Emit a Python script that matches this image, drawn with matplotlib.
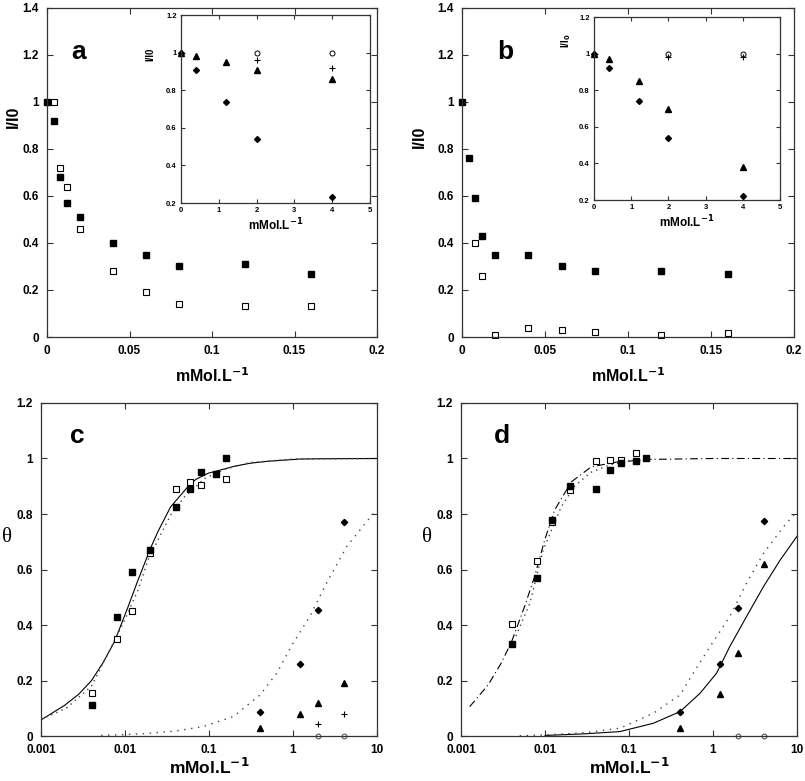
import matplotlib
matplotlib.use('Agg')
import matplotlib.pyplot as plt

plt.rcParams['font.family'] = ['Liberation Sans', 'DejaVu Sans']
plt.rcParams['font.weight'] = 'bold'

# ---------------- Data ----------------
# panel a (main)
a_fill_x = [0, 0.004, 0.008, 0.012, 0.02, 0.04, 0.06, 0.08, 0.12, 0.16]
a_fill_y = [1.0, 0.92, 0.68, 0.57, 0.51, 0.40, 0.35, 0.30, 0.31, 0.27]
a_open_x = [0.004, 0.008, 0.012, 0.02, 0.04, 0.06, 0.08, 0.12, 0.16]
a_open_y = [1.0, 0.72, 0.64, 0.46, 0.28, 0.19, 0.14, 0.13, 0.13]
# panel a (inset)
ai_tri_x = [0, 0.4, 1.2, 2, 4]
ai_tri_y = [1.0, 0.98, 0.95, 0.91, 0.86]
ai_dia_x = [0, 0.4, 1.2, 2, 4]
ai_dia_y = [1.0, 0.91, 0.74, 0.54, 0.23]
ai_plus_x = [2, 4]
ai_plus_y = [0.96, 0.92]
ai_circ_x = [2, 4]
ai_circ_y = [1.0, 1.0]

# panel b (main)
b_fill_x = [0, 0.004, 0.008, 0.012, 0.02, 0.04, 0.06, 0.08, 0.12, 0.16]
b_fill_y = [1.0, 0.76, 0.59, 0.43, 0.35, 0.35, 0.30, 0.28, 0.28, 0.27]
b_open_x = [0.008, 0.012, 0.02, 0.04, 0.06, 0.08, 0.12, 0.16]
b_open_y = [0.40, 0.26, 0.01, 0.04, 0.03, 0.02, 0.01, 0.015]
# panel b (inset)
bi_tri_x = [0, 0.4, 1.2, 2, 4]
bi_tri_y = [1.0, 0.97, 0.85, 0.70, 0.38]
bi_dia_x = [0, 0.4, 1.2, 2, 4]
bi_dia_y = [1.0, 0.92, 0.74, 0.54, 0.22]
bi_plus_x = [2, 4]
bi_plus_y = [0.98, 0.98]
bi_circ_x = [2, 4]
bi_circ_y = [1.0, 1.0]

# panel c
c_fill_x = [0.004, 0.008, 0.012, 0.02, 0.04, 0.06, 0.08, 0.12, 0.16]
c_fill_y = [0.11, 0.43, 0.59, 0.67, 0.825, 0.89, 0.95, 0.945, 1.0]
c_open_x = [0.004, 0.008, 0.012, 0.02, 0.04, 0.06, 0.08, 0.16]
c_open_y = [0.155, 0.35, 0.45, 0.66, 0.89, 0.915, 0.905, 0.925]
c_dia_x = [0.4, 1.2, 2, 4]
c_dia_y = [0.085, 0.26, 0.455, 0.77]
c_tri_x = [0.4, 1.2, 2, 4]
c_tri_y = [0.03, 0.08, 0.12, 0.19]
c_plus_x = [2, 4]
c_plus_y = [0.045, 0.08]
c_circ_x = [2, 4]
c_circ_y = [0, 0]
# fitted curves
c_solid_x = [0.001, 0.0019, 0.0028, 0.004, 0.0055, 0.0075, 0.0109, 0.0143, 0.0205,
             0.025, 0.035, 0.056, 0.07, 0.098, 0.135, 0.2, 0.31, 0.5, 1.2, 2.0, 10]
c_solid_y = [0.058, 0.11, 0.15, 0.20, 0.265, 0.34, 0.466, 0.562, 0.682,
             0.74, 0.826, 0.898, 0.925, 0.947, 0.958, 0.972, 0.983, 0.99, 0.998, 0.999, 1.0]
c_dot1_x = [0.001, 0.002, 0.004, 0.0066, 0.01, 0.0143, 0.0188, 0.027, 0.035, 0.051,
            0.089, 0.15, 0.3, 1, 10]
c_dot1_y = [0.06, 0.10, 0.18, 0.31, 0.42, 0.526, 0.634, 0.73, 0.796, 0.862,
            0.928, 0.96, 0.985, 0.998, 1.0]
c_dot2_x = [0.0052, 0.01, 0.02, 0.04, 0.085, 0.195, 0.405, 0.64, 1.0, 1.58, 2.5, 4.35, 8.7, 10]
c_dot2_y = [0.002, 0.005, 0.01, 0.018, 0.034, 0.07, 0.148, 0.226, 0.334, 0.43, 0.55, 0.682, 0.796, 0.81]

# panel d
d_fill_x = [0.004, 0.008, 0.012, 0.02, 0.04, 0.06, 0.08, 0.12, 0.16]
d_fill_y = [0.33, 0.57, 0.78, 0.90, 0.89, 0.96, 0.985, 0.99, 1.0]
d_open_x = [0.004, 0.008, 0.012, 0.02, 0.04, 0.06, 0.08, 0.12]
d_open_y = [0.405, 0.63, 0.77, 0.885, 0.99, 0.995, 0.995, 1.02]
d_dia_x = [0.4, 1.2, 2, 4]
d_dia_y = [0.085, 0.26, 0.46, 0.775]
d_tri_x = [0.4, 1.2, 2, 4]
d_tri_y = [0.03, 0.15, 0.30, 0.62]
d_circ_x = [2, 4]
d_circ_y = [0, 0]
# fitted curves
d_dashdot_x = [0.00127, 0.0021, 0.003, 0.004, 0.0057, 0.0075, 0.0099, 0.013, 0.0206,
               0.0355, 0.074, 0.2, 1, 10]
d_dashdot_y = [0.106, 0.184, 0.262, 0.34, 0.466, 0.574, 0.706, 0.814, 0.916,
               0.97, 0.988, 0.997, 1.0, 1.0]
d_dot1_x = [0.0045, 0.0066, 0.0095, 0.0156, 0.0225, 0.035, 0.06, 0.1, 0.2]
d_dot1_y = [0.36, 0.478, 0.67, 0.826, 0.90, 0.95, 0.978, 0.99, 0.998]
d_solid_x = [0.01, 0.03, 0.078, 0.195, 0.405, 0.7, 1.1, 1.58, 2.5, 3.98, 6.3, 10]
d_solid_y = [0.002, 0.008, 0.016, 0.046, 0.088, 0.154, 0.226, 0.322, 0.43, 0.538, 0.634, 0.72]
d_dot2_x = [0.005, 0.01, 0.03, 0.078, 0.195, 0.405, 0.58, 0.92, 1.58, 2.5, 3.98, 6.9, 10]
d_dot2_y = [0.001, 0.004, 0.012, 0.028, 0.082, 0.148, 0.226, 0.322, 0.43, 0.55, 0.658, 0.754, 0.81]

lin_xticks = [0, 0.05, 0.1, 0.15, 0.2]
lin_xlabels = ['0', '0.05', '0.1', '0.15', '0.2']
ab_yticks = [0, 0.2, 0.4, 0.6, 0.8, 1.0, 1.2, 1.4]
ab_ylabels = ['0', '0.2', '0.4', '0.6', '0.8', '1', '1.2', '1.4']
log_xticks = [0.001, 0.01, 0.1, 1, 10]
log_xlabels = ['0.001', '0.01', '0.1', '1', '10']
cd_yticks = [0, 0.2, 0.4, 0.6, 0.8, 1.0, 1.2]
cd_ylabels = ['0', '0.2', '0.4', '0.6', '0.8', '1', '1.2']
in_xticks = [0, 1, 2, 3, 4, 5]
in_yticks = [0.2, 0.4, 0.6, 0.8, 1.0, 1.2]
in_ylabels = ['0.2', '0.4', '0.6', '0.8', '1', '1.2']

XLAB = 'mMol.L$^{\\mathbf{-1}}$'
FRAME = '#333333'


def style(ax, size, tlen, pad):
    for s in ax.spines.values():
        s.set_color(FRAME)
        s.set_linewidth(0.9)
    ax.tick_params(direction='in', top=True, right=True, length=tlen, width=0.8,
                   color=FRAME, labelsize=size, pad=pad)
    ax.tick_params(which='minor', length=0)
    for t in ax.get_xticklabels() + ax.get_yticklabels():
        t.set_fontweight('bold')


def squares(ax, fx, fy, ox, oy, ms=4.6):
    ax.plot(ox, oy, 's', mfc='white', mec='black', mew=0.8, ms=ms, ls='none', clip_on=False)
    ax.plot(fx, fy, 's', mfc='black', mec='black', ms=ms, ls='none', clip_on=False)


fig = plt.figure(figsize=(8.05, 7.81), dpi=100)

# ---------- panel a and b ----------
main = [
    ([0.0584, 0.5685, 0.410, 0.4213], a_fill_x, a_fill_y, a_open_x, a_open_y, 'a', (-0.103, 0.669)),
    ([0.5739, 0.5685, 0.4124, 0.4213], b_fill_x, b_fill_y, b_open_x, b_open_y, 'b', (-0.127, 0.608)),
]
for rect, fx, fy, ox, oy, letter, ylpos in main:
    ax = fig.add_axes(rect)
    squares(ax, fx, fy, ox, oy)
    ax.set_xlim(0, 0.2)
    ax.set_ylim(0, 1.4)
    ax.set_xticks(lin_xticks)
    ax.set_xticklabels(lin_xlabels)
    ax.set_yticks(ab_yticks)
    ax.set_yticklabels(ab_ylabels)
    style(ax, 8.5, 4, 6)
    ax.set_xlabel(XLAB, fontsize=11.5, fontweight='bold')
    ax.xaxis.set_label_coords(0.5, -0.09)
    ax.text(ylpos[0], ylpos[1], 'I/I0', transform=ax.transAxes, rotation=90,
            ha='center', va='center', fontsize=11.5, fontweight='bold')
    ax.text(0.095 if letter == 'a' else 0.13, 0.865, letter, transform=ax.transAxes,
            ha='center', va='center', fontsize=19, fontweight='bold')

# ---------- insets ----------
insets = [
    ([0.2248, 0.7400, 0.2348, 0.2407], ai_tri_x, ai_tri_y, ai_dia_x, ai_dia_y,
     ai_plus_x, ai_plus_y, ai_circ_x, ai_circ_y, 'I/I0', (-0.164, 0.79)),
    ([0.7379, 0.7439, 0.2311, 0.2343], bi_tri_x, bi_tri_y, bi_dia_x, bi_dia_y,
     bi_plus_x, bi_plus_y, bi_circ_x, bi_circ_y, 'I/I$_\\mathbf{0}$', (-0.15, 0.87)),
]
for rect, tx, ty, dx, dy, px, py, cx, cy, ylab, ylpos in insets:
    ax = fig.add_axes(rect)
    ax.plot(cx, cy, 'o', mfc='white', mec='black', mew=0.7, ms=3.6, ls='none')
    ax.plot(px, py, '+', color='black', mew=0.8, ms=5, ls='none')
    ax.plot(tx, ty, '^', color='black', ms=3.8, ls='none', clip_on=False)
    ax.plot(dx, dy, 'D', color='black', ms=3.0, ls='none', clip_on=False)
    ax.set_xlim(0, 5)
    ax.set_ylim(0.2, 1.2)
    ax.set_xticks(in_xticks)
    ax.set_yticks(in_yticks)
    ax.set_yticklabels(in_ylabels)
    style(ax, 5.5, 3, 3)
    ax.set_xlabel(XLAB, fontsize=8.5, fontweight='bold', labelpad=2)
    ax.text(ylpos[0], ylpos[1], ylab, transform=ax.transAxes, rotation=90,
            ha='center', va='center', fontsize=7, fontweight='bold')

# ---------- panel c ----------
axc = fig.add_axes([0.0509, 0.0576, 0.4174, 0.4264])
axc.plot(c_solid_x, c_solid_y, '-', color='black', lw=0.8)
axc.plot(c_dot1_x, c_dot1_y, color='#444444', lw=1.0, ls=(0, (1, 3)))
axc.plot(c_dot2_x, c_dot2_y, color='#444444', lw=1.0, ls=(0, (1, 4)))
squares(axc, c_fill_x, c_fill_y, c_open_x, c_open_y)
axc.plot(c_dia_x, c_dia_y, 'D', color='black', ms=3.2, ls='none')
axc.plot(c_tri_x, c_tri_y, '^', color='black', ms=4.2, ls='none')
axc.plot(c_plus_x, c_plus_y, '+', color='black', mew=0.8, ms=5, ls='none')
axc.plot(c_circ_x, c_circ_y, 'o', mfc='white', mec='#555555', mew=0.8, ms=3.4,
         ls='none', clip_on=False)

# ---------- panel d ----------
axd = fig.add_axes([0.5727, 0.0576, 0.4174, 0.4264])
axd.plot(d_dashdot_x, d_dashdot_y, color='black', lw=0.8, ls=(0, (7, 3, 1, 3)))
axd.plot(d_dot1_x, d_dot1_y, color='#444444', lw=1.0, ls=(0, (1, 3)))
axd.plot(d_solid_x, d_solid_y, '-', color='black', lw=0.8)
axd.plot(d_dot2_x, d_dot2_y, color='#444444', lw=1.0, ls=(0, (1, 4)))
squares(axd, d_fill_x, d_fill_y, d_open_x, d_open_y)
axd.plot(d_dia_x, d_dia_y, 'D', color='black', ms=3.2, ls='none')
axd.plot(d_tri_x, d_tri_y, '^', color='black', ms=4.2, ls='none')
axd.plot(d_circ_x, d_circ_y, 'o', mfc='white', mec='#555555', mew=0.8, ms=3.4,
         ls='none', clip_on=False)

for ax, letter, lx in [(axc, 'c', 0.107), (axd, 'd', 0.122)]:
    ax.set_xscale('log')
    ax.set_xlim(0.001, 10)
    ax.set_ylim(0, 1.2)
    ax.set_xticks(log_xticks)
    ax.set_xticklabels(log_xlabels)
    ax.set_yticks(cd_yticks)
    ax.set_yticklabels(cd_ylabels)
    style(ax, 8.5, 4, 6)
    ax.set_xlabel(XLAB, fontsize=12.5, fontweight='bold')
    ax.xaxis.set_label_coords(0.5, -0.062)
    ax.text(-0.101, 0.597, '\u03b8', transform=ax.transAxes, ha='center', va='center',
            fontsize=15, family=['Liberation Serif', 'DejaVu Serif'], fontweight='normal')
    ax.text(lx, 0.9, letter, transform=ax.transAxes, ha='center', va='center',
            fontsize=19, fontweight='bold')

fig.savefig('out.png', dpi=100)
